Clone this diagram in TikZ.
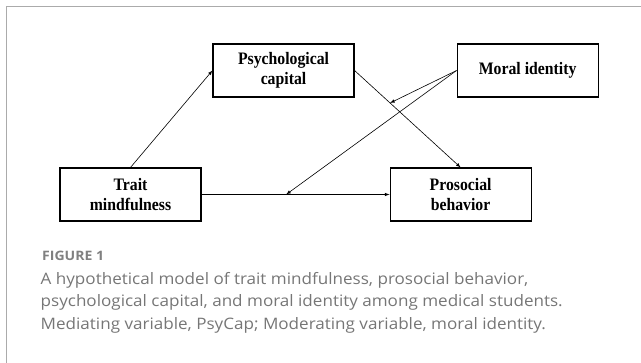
\documentclass[tikz,border=0pt]{standalone}
\usepackage{fontspec}
\setmainfont{Liberation Serif}
\newfontfamily\boxfont[FakeStretch=0.9]{Liberation Serif}
\newfontfamily\capfont[FakeStretch=1.08]{Open Sans}
\usetikzlibrary{arrows, positioning, calc}
\definecolor{framegray}{HTML}{ABABAB}
\definecolor{capgray}{HTML}{767676}
\definecolor{figgray}{HTML}{808080}

\begin{document}
\begin{tikzpicture}[x=1pt,y=-1pt,
  var/.style={draw,line width=1.1pt,minimum width=141pt,minimum height=53pt,inner sep=0pt,align=center,font=\boxfont\bfseries\fontsize{17.5}{20}\selectfont},
  path/.style={-latex,line width=0.6pt}]
\useasboundingbox (0,0) rectangle (641,363);
\draw[framegray,line width=1.5pt] (641,6.7) -- (6.7,6.7) -- (6.7,363);

\node[var] (trait) at (130.5,194.5) {Trait\\mindfulness};
\node[var,right=188pt of trait] (prosocial) {Prosocial\\behavior};
\node[var] (psycap) at (283.5,70.5) {Psychological\\capital};
\node[var,right=102pt of psycap] (moral) {Moral identity};

\coordinate (m1) at ($(psycap.east)!0.335!(prosocial.north)$);
\coordinate (m2) at ($(trait.east)!0.45!(prosocial.west)$);

\draw[path] (trait.north) -- (psycap.west);
\draw[path] (psycap.east) -- (prosocial.north);
\draw[path] (trait.east) -- (prosocial.west);
\draw[path] (moral.west) -- (m1);
\draw[path] (moral.west) -- (m2);

\node[anchor=base west,inner sep=0pt,text=figgray,font=\capfont\bfseries\fontsize{13}{15}\selectfont] (fignum) at (42,261) {FIGURE 1};
\node[anchor=north west,inner sep=0pt,align=left,text=capgray,font=\capfont\fontsize{15.8}{22.5}\selectfont] (caption) at (40.5,272) {A hypothetical model of trait mindfulness, prosocial behavior,\\psychological capital, and moral identity among medical students.\\Mediating variable, PsyCap; Moderating variable, moral identity.};
\end{tikzpicture}
\end{document}
